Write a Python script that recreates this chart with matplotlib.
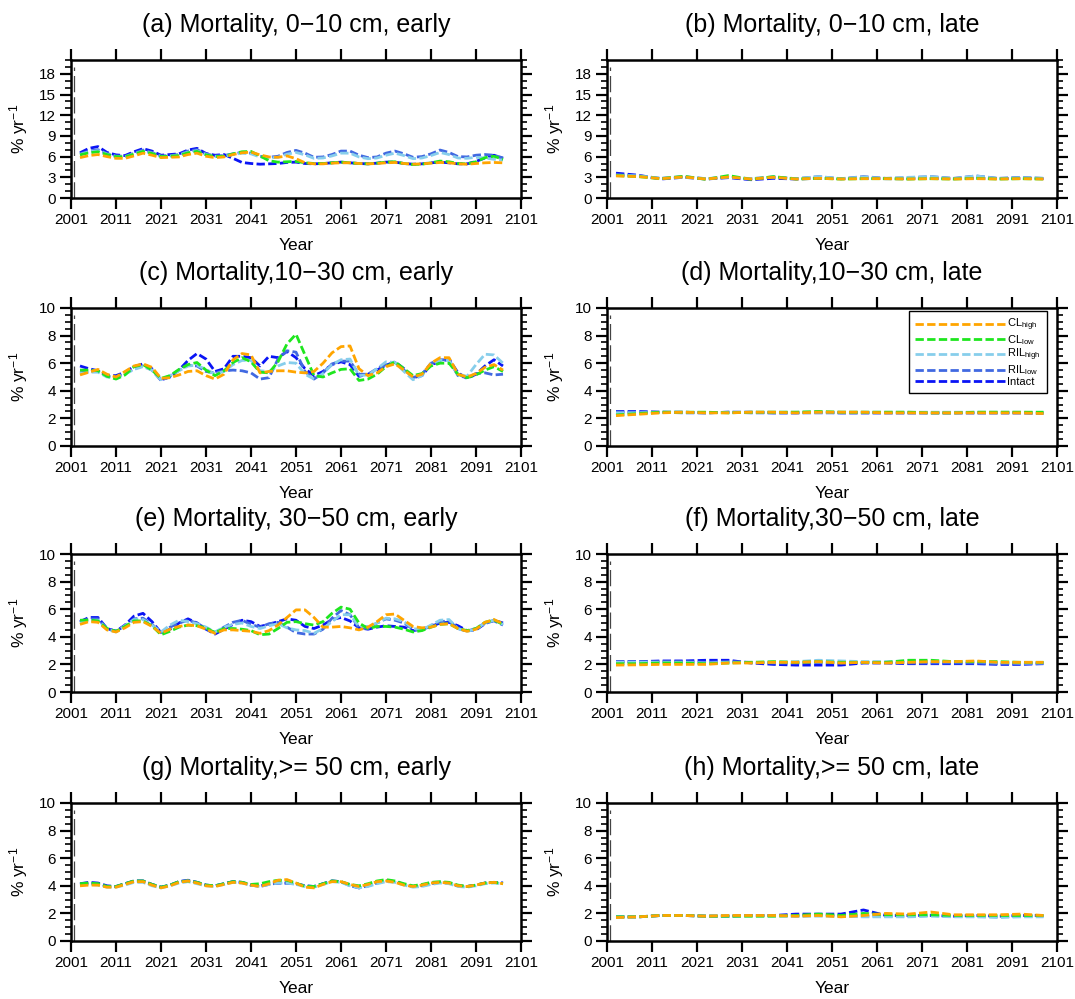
import numpy as np
import matplotlib
matplotlib.use("Agg")
import matplotlib.pyplot as plt
from matplotlib.ticker import MultipleLocator

plt.rcParams["font.family"] = ["Liberation Sans", "DejaVu Sans"]
plt.rcParams["mathtext.fontset"] = "custom"
plt.rcParams["mathtext.rm"] = "Liberation Sans"
plt.rcParams["mathtext.it"] = "Liberation Sans:italic"

# early panels: two-year steps, late panels: five-year steps
years = np.arange(2003, 2099, 2)
years_late = np.arange(2003, 2099, 5)

# (a) 0-10 cm, early
a_cl_high = [5.85, 6.15, 6.3, 6.0, 5.75, 5.75, 6.1, 6.5,
             6.2, 5.85, 5.9, 5.95, 6.3, 6.5, 6.05, 5.85,
             5.95, 6.3, 6.55, 6.65, 6.25, 5.95, 5.9, 6.1,
             5.7, 5.1, 4.95, 4.95, 5.05, 5.1, 5.1, 5.0,
             4.95, 5.0, 5.1, 5.15, 5.0, 4.9, 4.95, 5.05,
             5.15, 5.1, 4.95, 4.9, 5.0, 5.1, 5.15, 5.1]
a_cl_low = [6.25, 6.55, 6.7, 6.3, 6.0, 5.95, 6.35, 6.75,
            6.45, 6.0, 6.05, 6.15, 6.55, 6.75, 6.25, 6.0,
            6.05, 6.4, 6.7, 6.75, 6.1, 5.4, 5.2, 5.25,
            5.3, 5.1, 5.0, 5.0, 5.1, 5.2, 5.1, 5.0,
            4.95, 5.05, 5.2, 5.25, 5.0, 4.85, 4.9, 5.1,
            5.35, 5.25, 5.0, 4.95, 5.25, 5.85, 6.05, 5.6]
a_ril_high = [6.3, 6.7, 6.85, 6.35, 6.0, 5.95, 6.4, 6.8,
              6.5, 6.0, 6.05, 6.2, 6.65, 6.85, 6.3, 6.0,
              6.05, 6.3, 6.5, 6.4, 5.95, 5.8, 5.9, 6.35,
              6.6, 6.25, 5.75, 5.8, 6.1, 6.5, 6.5, 5.95,
              5.7, 5.8, 6.2, 6.5, 6.15, 5.7, 5.8, 6.15,
              6.6, 6.3, 5.8, 5.75, 5.9, 5.8, 5.6, 5.5]
a_ril_low = [6.4, 6.8, 7.0, 6.45, 6.1, 6.05, 6.5, 6.95,
             6.6, 6.1, 6.15, 6.3, 6.8, 7.0, 6.4, 6.1,
             6.15, 6.4, 6.6, 6.5, 6.05, 5.9, 6.05, 6.6,
             6.9, 6.5, 5.9, 5.95, 6.3, 6.8, 6.8, 6.2,
             5.85, 5.95, 6.5, 6.8, 6.4, 5.9, 6.0, 6.4,
             6.95, 6.6, 6.0, 5.95, 6.2, 6.3, 6.2, 5.8]
a_intact = [6.55, 7.2, 7.45, 6.6, 6.25, 6.15, 6.7, 7.15,
            6.8, 6.2, 6.3, 6.4, 6.95, 7.2, 6.45, 6.2,
            6.3, 5.75, 5.15, 5.0, 4.9, 4.95, 5.0, 5.15,
            5.2, 5.0, 4.95, 5.0, 5.1, 5.2, 5.1, 5.0,
            4.95, 5.05, 5.2, 5.2, 5.0, 4.9, 4.95, 5.1,
            5.2, 5.1, 4.95, 4.95, 5.3, 5.8, 6.2, 5.75]

# (b) 0-10 cm, late
b_cl_high = [3.2, 3.1, 2.8, 3.05, 2.75, 3.05, 2.75, 3.0, 2.75, 2.85,
             2.75, 2.8, 2.8, 2.75, 2.8, 2.75, 2.8, 2.75, 2.8, 2.75]
b_cl_low = [3.25, 3.1, 2.8, 3.15, 2.7, 3.25, 2.7, 3.1, 2.75, 2.85,
            2.75, 2.8, 2.8, 2.75, 2.8, 2.75, 2.85, 2.75, 2.8, 2.75]
b_ril_high = [3.3, 3.2, 2.85, 3.05, 2.8, 3.05, 2.8, 3.05, 2.8, 3.1,
              2.8, 3.05, 2.8, 3.0, 3.1, 2.8, 3.2, 2.8, 2.95, 2.85]
b_ril_low = [3.4, 3.2, 2.85, 3.1, 2.8, 3.0, 2.8, 3.05, 2.8, 3.1,
             2.8, 3.1, 2.85, 2.95, 3.1, 2.85, 3.2, 2.85, 3.0, 2.85]
b_intact = [3.6, 3.3, 2.75, 3.0, 2.75, 2.95, 2.65, 2.85, 2.75, 2.85,
            2.8, 2.85, 2.8, 2.8, 2.85, 2.8, 2.85, 2.8, 2.85, 2.8]

# (c) 10-30 cm, early
c_cl_high = [5.15, 5.35, 5.55, 5.2, 5.0, 5.4, 5.8, 5.95,
             5.7, 4.9, 4.95, 5.15, 5.4, 5.45, 5.1, 4.85,
             5.2, 6.25, 6.7, 6.6, 5.3, 5.4, 5.45, 5.45,
             5.35, 5.3, 5.4, 6.0, 6.75, 7.2, 7.25, 5.6,
             5.1, 5.3, 5.75, 5.95, 5.5, 5.0, 5.2, 6.0,
             6.4, 6.4, 5.2, 5.0, 5.25, 5.7, 5.9, 5.5]
c_cl_low = [5.5, 5.5, 5.45, 5.05, 4.85, 5.15, 5.75, 5.9,
            5.5, 4.9, 5.1, 5.55, 5.9, 6.05, 5.5, 5.1,
            5.45, 6.05, 6.4, 6.1, 5.35, 5.3, 6.1, 7.4,
            8.1, 6.6, 5.1, 5.0, 5.3, 5.55, 5.6, 4.75,
            4.85, 5.2, 5.75, 6.1, 5.6, 5.1, 5.25, 5.8,
            6.0, 6.0, 5.2, 4.95, 5.15, 5.5, 5.75, 5.4]
c_ril_high = [5.25, 5.35, 5.35, 5.0, 4.95, 5.2, 5.55, 5.75,
              5.5, 4.8, 5.1, 5.45, 5.8, 5.85, 5.55, 5.2,
              5.4, 5.9, 6.2, 6.2, 5.45, 5.4, 5.8, 6.05,
              6.0, 5.2, 4.85, 5.25, 5.9, 6.25, 6.3, 5.1,
              5.15, 5.6, 6.1, 6.05, 5.4, 4.8, 5.1, 5.95,
              6.2, 6.2, 5.2, 5.05, 5.9, 6.65, 6.6, 6.0]
c_ril_low = [5.3, 5.4, 5.4, 5.05, 5.0, 5.25, 5.6, 5.8,
             5.5, 4.75, 5.05, 5.5, 5.85, 5.8, 5.4, 5.3,
             5.45, 5.5, 5.45, 5.3, 4.85, 4.95, 6.3, 6.9,
             6.8, 5.4, 4.85, 5.3, 5.95, 6.15, 6.15, 5.2,
             5.2, 5.6, 5.9, 6.05, 5.5, 4.95, 5.2, 6.0,
             6.25, 6.25, 5.1, 4.95, 5.25, 5.3, 5.15, 5.2]
c_intact = [5.8, 5.6, 5.45, 5.1, 5.1, 5.35, 5.75, 5.95,
            5.6, 4.8, 5.0, 5.5, 6.2, 6.7, 6.3, 5.4,
            5.6, 6.5, 6.5, 6.4, 5.8, 6.5, 6.4, 6.85,
            6.4, 5.6, 5.1, 5.4, 5.9, 6.1, 5.9, 5.05,
            5.2, 5.5, 5.85, 6.1, 5.6, 4.95, 5.1, 5.9,
            6.1, 6.3, 5.3, 4.9, 5.2, 5.8, 6.25, 5.8]

# (d) 10-30 cm, late
d_cl_high = [2.2, 2.3, 2.4, 2.45, 2.4, 2.4, 2.45, 2.45, 2.4, 2.45,
             2.45, 2.45, 2.4, 2.4, 2.4, 2.4, 2.4, 2.4, 2.4, 2.35]
d_cl_low = [2.25, 2.35, 2.45, 2.45, 2.45, 2.4, 2.45, 2.45, 2.45, 2.5,
            2.45, 2.45, 2.45, 2.45, 2.4, 2.4, 2.45, 2.45, 2.45, 2.45]
d_ril_high = [2.4, 2.4, 2.45, 2.45, 2.4, 2.45, 2.45, 2.45, 2.45, 2.45,
              2.45, 2.45, 2.45, 2.45, 2.45, 2.45, 2.45, 2.45, 2.45, 2.4]
d_ril_low = [2.45, 2.45, 2.45, 2.4, 2.4, 2.45, 2.4, 2.4, 2.4, 2.4,
             2.4, 2.4, 2.4, 2.4, 2.4, 2.4, 2.4, 2.4, 2.4, 2.35]
d_intact = [2.5, 2.5, 2.45, 2.45, 2.4, 2.45, 2.45, 2.4, 2.4, 2.45,
            2.4, 2.4, 2.4, 2.4, 2.4, 2.4, 2.4, 2.4, 2.4, 2.4]

# (e) 30-50 cm, early
e_cl_high = [4.9, 5.1, 5.05, 4.5, 4.35, 4.65, 5.05, 5.1,
             4.75, 4.25, 4.55, 4.75, 4.85, 4.8, 4.55, 4.25,
             4.5, 4.5, 4.45, 4.4, 4.25, 4.45, 4.85, 5.4,
             5.95, 5.95, 5.4, 4.7, 4.7, 4.75, 4.65, 4.5,
             4.7, 5.1, 5.6, 5.65, 5.2, 4.75, 4.65, 4.7,
             4.9, 4.95, 4.6, 4.4, 4.55, 5.05, 5.25, 4.95]
e_cl_low = [5.2, 5.22, 5.15, 4.6, 4.4, 4.75, 5.15, 5.15,
            4.8, 4.15, 4.4, 4.7, 4.85, 4.8, 4.65, 4.3,
            4.6, 4.6, 4.55, 4.45, 4.15, 4.2, 4.6, 5.05,
            5.1, 4.95, 4.85, 5.1, 5.7, 6.15, 6.0, 5.0,
            4.6, 4.75, 4.75, 4.7, 4.55, 4.35, 4.45, 4.7,
            4.9, 4.95, 4.6, 4.45, 4.6, 5.05, 5.22, 4.9]
e_ril_high = [5.0, 5.2, 5.2, 4.55, 4.35, 4.8, 5.25, 5.25,
              4.85, 4.35, 4.85, 5.2, 5.1, 4.95, 4.7, 4.35,
              4.7, 4.9, 5.0, 4.75, 4.6, 4.8, 4.95, 4.65,
              4.5, 4.45, 4.25, 4.6, 5.1, 5.6, 5.6, 4.75,
              4.75, 5.0, 5.35, 5.3, 5.1, 4.6, 4.5, 4.85,
              5.2, 5.25, 4.6, 4.4, 4.55, 5.0, 5.2, 4.9]
e_ril_low = [5.05, 5.3, 5.3, 4.6, 4.4, 4.8, 5.3, 5.35,
             4.9, 4.3, 4.7, 5.0, 5.2, 5.0, 4.6, 4.3,
             4.7, 5.05, 5.2, 4.9, 4.7, 4.95, 5.05, 4.7,
             4.3, 4.2, 4.2, 4.55, 5.35, 5.9, 5.6, 4.65,
             4.6, 5.0, 5.3, 5.2, 5.0, 4.55, 4.5, 4.8,
             5.1, 5.15, 4.6, 4.4, 4.6, 5.0, 5.15, 4.85]
e_intact = [5.1, 5.4, 5.4, 4.6, 4.4, 4.85, 5.5, 5.7,
            5.1, 4.3, 4.55, 5.0, 5.3, 5.0, 4.55, 4.2,
            4.55, 4.9, 5.2, 5.1, 4.75, 4.9, 5.1, 5.3,
            5.2, 4.75, 4.6, 4.85, 5.25, 5.4, 5.15, 4.65,
            4.55, 4.7, 4.8, 4.75, 4.7, 4.45, 4.55, 4.75,
            5.0, 5.05, 4.8, 4.45, 4.5, 4.95, 5.2, 5.0]

# (f) 30-50 cm, late
f_cl_high = [1.95, 1.97, 2.0, 2.0, 2.0, 2.1, 2.1, 2.15, 2.15, 2.2,
             2.1, 2.15, 2.1, 2.15, 2.2, 2.2, 2.25, 2.15, 2.15, 2.15]
f_cl_low = [2.05, 2.05, 2.1, 2.1, 2.05, 2.1, 2.15, 2.2, 2.15, 2.2,
            2.15, 2.15, 2.15, 2.3, 2.3, 2.2, 2.2, 2.2, 2.15, 2.15]
f_ril_high = [2.15, 2.15, 2.15, 2.15, 2.1, 2.15, 2.15, 2.15, 2.2, 2.3,
              2.25, 2.2, 2.2, 2.25, 2.2, 2.2, 2.2, 2.15, 2.1, 2.1]
f_ril_low = [2.2, 2.2, 2.2, 2.2, 2.15, 2.2, 2.15, 2.1, 2.1, 2.15,
             2.1, 2.15, 2.15, 2.1, 2.1, 2.1, 2.1, 2.05, 2.05, 2.1]
f_intact = [2.2, 2.2, 2.25, 2.25, 2.3, 2.3, 2.1, 2.0, 1.95, 1.95,
            1.95, 2.1, 2.1, 2.05, 2.05, 2.05, 2.05, 2.0, 2.0, 2.05]

# (g) >= 50 cm, early
g_cl_high = [4.0, 4.05, 4.05, 3.9, 3.9, 4.1, 4.3, 4.3,
             4.05, 3.85, 4.0, 4.25, 4.35, 4.2, 4.0, 3.95,
             4.1, 4.25, 4.2, 4.05, 3.95, 4.15, 4.4, 4.45,
             4.2, 3.9, 3.85, 4.1, 4.3, 4.3, 4.1, 3.95,
             4.1, 4.3, 4.35, 4.25, 4.05, 3.95, 4.05, 4.2,
             4.25, 4.2, 4.0, 3.95, 4.05, 4.2, 4.25, 4.15]
g_cl_low = [4.15, 4.2, 4.15, 3.95, 3.95, 4.15, 4.35, 4.35,
            4.1, 3.9, 4.05, 4.3, 4.35, 4.25, 4.05, 4.0,
            4.15, 4.3, 4.25, 4.1, 4.15, 4.3, 4.4, 4.4,
            4.2, 3.95, 3.95, 4.15, 4.35, 4.3, 4.1, 4.0,
            4.15, 4.35, 4.45, 4.35, 4.15, 4.0, 4.1, 4.25,
            4.3, 4.25, 4.05, 3.95, 4.05, 4.2, 4.25, 4.15]
g_ril_high = [4.05, 4.1, 4.05, 3.9, 3.9, 4.05, 4.25, 4.25,
              4.0, 3.85, 4.0, 4.2, 4.3, 4.15, 4.0, 3.95,
              4.1, 4.25, 4.2, 4.05, 3.95, 4.1, 4.2, 4.2,
              4.1, 3.95, 3.9, 4.1, 4.3, 4.25, 4.0, 3.85,
              3.95, 4.15, 4.3, 4.25, 4.05, 3.9, 3.95, 4.1,
              4.2, 4.15, 3.95, 3.9, 4.0, 4.15, 4.2, 4.15]
g_ril_low = [4.1, 4.2, 4.15, 3.95, 3.95, 4.15, 4.35, 4.35,
             4.1, 3.9, 4.05, 4.3, 4.4, 4.25, 4.05, 4.0,
             4.15, 4.3, 4.25, 4.05, 3.95, 4.1, 4.2, 4.2,
             4.15, 4.0, 3.95, 4.15, 4.35, 4.3, 4.0, 3.85,
             4.0, 4.2, 4.35, 4.3, 4.1, 3.95, 4.0, 4.15,
             4.25, 4.2, 4.0, 3.95, 4.05, 4.2, 4.25, 4.2]
g_intact = [4.15, 4.25, 4.2, 4.0, 3.95, 4.15, 4.35, 4.35,
            4.1, 3.9, 4.05, 4.3, 4.4, 4.25, 4.05, 4.0,
            4.15, 4.3, 4.25, 4.05, 4.0, 4.15, 4.2, 4.2,
            4.15, 4.0, 3.95, 4.15, 4.35, 4.3, 4.05, 3.85,
            4.0, 4.25, 4.4, 4.3, 4.1, 3.95, 4.05, 4.2,
            4.25, 4.2, 4.0, 3.95, 4.05, 4.2, 4.25, 4.2]

# (h) >= 50 cm, late
h_cl_high = [1.7, 1.75, 1.85, 1.85, 1.8, 1.85, 1.85, 1.85, 1.8, 1.85,
             1.75, 1.85, 2.0, 1.95, 2.1, 1.9, 1.9, 1.9, 1.95, 1.85]
h_cl_low = [1.75, 1.75, 1.85, 1.85, 1.8, 1.8, 1.8, 1.8, 1.85, 1.95,
            1.85, 2.0, 1.9, 1.9, 1.9, 1.85, 1.85, 1.85, 1.85, 1.85]
h_ril_high = [1.75, 1.75, 1.85, 1.85, 1.8, 1.8, 1.8, 1.8, 1.8, 1.8,
              1.8, 1.75, 1.75, 1.75, 1.8, 1.75, 1.75, 1.7, 1.75, 1.75]
h_ril_low = [1.75, 1.75, 1.85, 1.85, 1.8, 1.8, 1.85, 1.85, 1.8, 1.85,
             1.8, 1.8, 1.8, 1.8, 1.85, 1.8, 1.8, 1.75, 1.8, 1.8]
h_intact = [1.75, 1.75, 1.85, 1.85, 1.8, 1.8, 1.85, 1.85, 1.95, 1.95,
            1.95, 2.25, 1.85, 1.85, 1.85, 1.8, 1.85, 1.8, 1.85, 1.85]

titles = ["(a) Mortality, 0\u221210 cm, early", "(b) Mortality, 0\u221210 cm, late",
          "(c) Mortality,10\u221230 cm, early", "(d) Mortality,10\u221230 cm, late",
          "(e) Mortality, 30\u221250 cm, early", "(f) Mortality,30\u221250 cm, late",
          "(g) Mortality,>= 50 cm, early", "(h) Mortality,>= 50 cm, late"]

labels = ["CL$_{\\rm high}$", "CL$_{\\rm low}$", "RIL$_{\\rm high}$", "RIL$_{\\rm low}$", "Intact"]
colors = ["#ffa500", "#1ee61e", "#87ceeb", "#4169e1", "#0a14f5"]

panels = [
    (years, [a_cl_high, a_cl_low, a_ril_high, a_ril_low, a_intact]),
    (years_late, [b_cl_high, b_cl_low, b_ril_high, b_ril_low, b_intact]),
    (years, [c_cl_high, c_cl_low, c_ril_high, c_ril_low, c_intact]),
    (years_late, [d_cl_high, d_cl_low, d_ril_high, d_ril_low, d_intact]),
    (years, [e_cl_high, e_cl_low, e_ril_high, e_ril_low, e_intact]),
    (years_late, [f_cl_high, f_cl_low, f_ril_high, f_ril_low, f_intact]),
    (years, [g_cl_high, g_cl_low, g_ril_high, g_ril_low, g_intact]),
    (years_late, [h_cl_high, h_cl_low, h_ril_high, h_ril_low, h_intact]),
]

marker_year = 2001.7   # dashed reference line near the start
W, H = 1075, 999
col_x = [71, 607]
row_top = [60, 308, 554, 803]
ax_w, ax_h = 450, 138

fig = plt.figure(figsize=(W / 100, H / 100), dpi=100)

for i, (x, series) in enumerate(panels):
    row, col = divmod(i, 2)
    left = col_x[col] / W
    bottom = 1 - (row_top[row] + ax_h) / H
    ax = fig.add_axes([left, bottom, ax_w / W, ax_h / H])

    # draw Intact first so CL_high sits on top
    handles = []
    for y, lab, c in reversed(list(zip(series, labels, colors))):
        ln, = ax.plot(x, y, color=c, lw=2.0, dashes=(3.0, 1.2), label=lab)
        handles.append(ln)

    ax.axvline(marker_year, ymin=0, ymax=0.95, color="#444444", lw=0.9,
               dashes=(13, 4))

    ax.set_xlim(2001, 2101)
    ax.set_xticks(np.arange(2001, 2102, 10))
    if row == 0:
        ax.set_ylim(0, 20)
        ax.set_yticks(np.arange(0, 19, 3))
        ax.yaxis.set_minor_locator(MultipleLocator(1))
    else:
        ax.set_ylim(0, 10)
        ax.set_yticks(np.arange(0, 11, 2))
        ax.yaxis.set_minor_locator(MultipleLocator(0.5))

    ax.tick_params(which="both", direction="out", top=True, right=True,
                   labelsize=11, width=1.6, pad=3)
    ax.tick_params(which="major", length=8)
    ax.tick_params(which="minor", length=4, width=1.2)
    for sp in ax.spines.values():
        sp.set_linewidth(1.8)

    ax.set_xlabel("Year", fontsize=12.5, labelpad=8)
    ax.set_ylabel("% yr$^{-1}$", fontsize=12.5, labelpad=6)
    ax.set_title(titles[i], fontsize=18, pad=20)

    if i == 3:
        leg = ax.legend(handles=handles[::-1], loc="upper right",
                        bbox_to_anchor=(0.977, 0.98), fontsize=8,
                        handlelength=8.2, handletextpad=0.05, labelspacing=0.0,
                        borderpad=0.55, borderaxespad=0.0, fancybox=False,
                        framealpha=1, edgecolor="black")
        leg.get_frame().set_linewidth(1.0)

fig.savefig("out.png", dpi=100)
